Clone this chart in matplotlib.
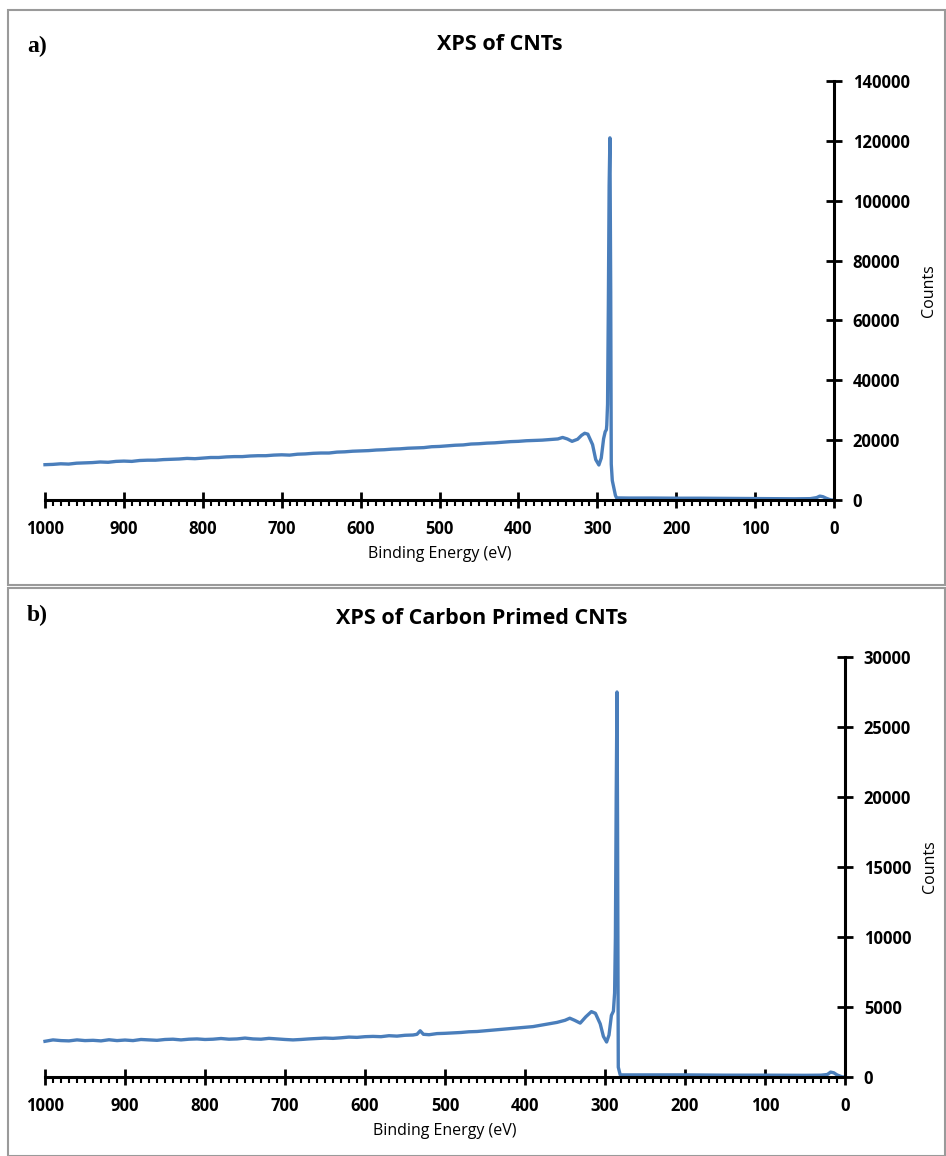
import matplotlib.pyplot as plt
from matplotlib.patches import Rectangle
from matplotlib.ticker import MultipleLocator

plt.rcParams['font.family'] = ['Open Sans', 'DejaVu Sans']

# Survey spectrum of the plain CNTs
energy_a = [1000, 990, 980, 970, 960, 950, 940, 930, 920, 910, 900, 890, 880, 870, 860, 850,
            840, 830, 820, 810, 800, 790, 780, 770, 760, 750, 740, 730, 720, 710, 700, 690,
            680, 670, 660, 650, 640, 630, 620, 610, 600, 590, 580, 570, 560, 550, 540, 530,
            520, 510, 500, 490, 480, 470, 460, 450, 440, 430, 420, 410, 400, 390, 380, 370,
            360, 350, 344, 338, 332, 325, 320, 316, 312, 306, 302, 298, 295, 292, 290, 288.5,
            288, 287, 286, 285, 284, 283, 282.3, 281, 279, 277, 275.5, 260, 230, 200, 170, 140,
            110, 80, 50, 30, 22, 18, 14, 10, 6, 3, 0]
counts_a = [11800, 11900, 12100, 12000, 12300, 12400, 12500, 12700, 12600, 12900, 13000, 12900,
            13200, 13300, 13300, 13500, 13600, 13700, 13900, 13800, 14000, 14200, 14200, 14400,
            14500, 14500, 14700, 14800, 14800, 15000, 15100, 15000, 15300, 15400, 15600, 15700,
            15700, 16000, 16100, 16300, 16400, 16500, 16700, 16800, 17000, 17100, 17300, 17400,
            17500, 17800, 17900, 18100, 18300, 18400, 18700, 18800, 19000, 19100, 19300, 19500,
            19600, 19800, 19900, 20000, 20200, 20400, 20900, 20400, 19600, 20300, 21600, 22300,
            22000, 18500, 13500, 11700, 14000, 20500, 22800, 23500, 25000, 32000, 65000, 105000,
            121000, 70000, 12000, 6500, 4000, 1500, 700, 650, 650, 600, 600, 550, 500, 450, 400,
            450, 800, 1300, 1100, 600, 200, 0, 0]

# Survey spectrum of the carbon primed CNTs
energy_b = [1000, 990, 980, 970, 960, 950, 940, 930, 920, 910, 900, 890, 880, 870, 860, 850,
            840, 830, 820, 810, 800, 790, 780, 770, 760, 750, 740, 730, 720, 710, 700, 690,
            680, 670, 660, 650, 640, 630, 620, 610, 600, 590, 580, 570, 560, 550, 540, 535,
            531, 527, 520, 510, 500, 490, 480, 470, 460, 450, 440, 430, 420, 410, 400, 390,
            380, 370, 360, 350, 344, 338, 331, 324, 317, 312, 306, 302, 298, 295, 292, 289.5,
            288, 287, 286, 285, 284.3, 283.4, 281, 270, 250, 200, 150, 100, 50, 30, 22, 18,
            14, 10, 6, 3, 0]
counts_b = [2550, 2650, 2600, 2580, 2650, 2600, 2620, 2580, 2660, 2600, 2640, 2600, 2680, 2650,
            2620, 2680, 2700, 2650, 2700, 2720, 2680, 2700, 2750, 2700, 2720, 2780, 2720, 2700,
            2760, 2720, 2680, 2650, 2680, 2720, 2750, 2780, 2760, 2800, 2850, 2830, 2880, 2900,
            2880, 2950, 2920, 2980, 3000, 3050, 3300, 3050, 3020, 3100, 3120, 3150, 3180, 3230,
            3250, 3300, 3350, 3400, 3450, 3500, 3550, 3600, 3700, 3800, 3900, 4050, 4200, 4050,
            3850, 4300, 4670, 4550, 3800, 2900, 2500, 3000, 4400, 4700, 6000, 10000, 20000,
            27500, 18000, 700, 150, 150, 150, 150, 130, 130, 120, 130, 180, 350, 300, 150, 60,
            0, 0]

line_color = '#4A7EBB'

fig = plt.figure(figsize=(9.46, 11.56), dpi=100)

# grey frames around both panels
fig.add_artist(Rectangle((8 / 946, 1 - 585 / 1156), 937 / 946, 575 / 1156,
                         transform=fig.transFigure, fill=False, edgecolor='#9a9a9a', lw=1.5))
fig.add_artist(Rectangle((8 / 946, 0.0), 937 / 946, 1 - 588 / 1156,
                         transform=fig.transFigure, fill=False, edgecolor='#9a9a9a', lw=1.5))


def style_axes(ax, ymax, ystep):
    ax.set_xlim(1000, 0)
    ax.set_ylim(0, ymax)
    for side in ['left', 'top']:
        ax.spines[side].set_visible(False)
    for side in ['right', 'bottom']:
        ax.spines[side].set_linewidth(2.2)
    ax.yaxis.tick_right()
    ax.yaxis.set_label_position('right')
    ax.xaxis.set_major_locator(MultipleLocator(100))
    ax.xaxis.set_minor_locator(MultipleLocator(10))
    ax.yaxis.set_major_locator(MultipleLocator(ystep))
    ax.tick_params(axis='x', which='major', direction='inout', length=11, width=2,
                   pad=9, labelsize=12)
    ax.tick_params(axis='x', which='minor', direction='out', length=4, width=1.5)
    ax.tick_params(axis='y', which='major', direction='inout', length=11, width=2,
                   pad=8, labelsize=12)
    for lab in ax.get_xticklabels() + ax.get_yticklabels():
        lab.set_fontweight('bold')
    ax.set_xlabel('Binding Energy (eV)', fontsize=11.5, fontweight='medium', labelpad=6)
    ax.set_ylabel('Counts', fontsize=11.5, fontweight='medium', labelpad=8)


# a) XPS of CNTs
ax1 = fig.add_axes([45 / 946, 1 - 500 / 1156, 789 / 946, 419 / 1156])
ax1.plot(energy_a, counts_a, color=line_color, lw=2.4, clip_on=False)
style_axes(ax1, 140000, 20000)

# b) XPS of Carbon Primed CNTs
ax2 = fig.add_axes([45 / 946, 1 - 1077 / 1156, 800 / 946, 420 / 1156])
ax2.plot(energy_b, counts_b, color=line_color, lw=2.4, clip_on=False)
style_axes(ax2, 30000, 5000)

fig.text(500 / 946, 1 - 45 / 1156, 'XPS of CNTs', ha='center', va='center',
         fontsize=15.5, fontweight='bold')
fig.text(482 / 946, 1 - 618 / 1156, 'XPS of Carbon Primed CNTs', ha='center', va='center',
         fontsize=15.5, fontweight='bold')

fig.text(27 / 946, 1 - 52 / 1156, 'a)', family='Liberation Serif', fontweight='bold', fontsize=17)
fig.text(27 / 946, 1 - 621 / 1156, 'b)', family='Liberation Serif', fontweight='bold', fontsize=17)

fig.savefig('out.png', dpi=100)
